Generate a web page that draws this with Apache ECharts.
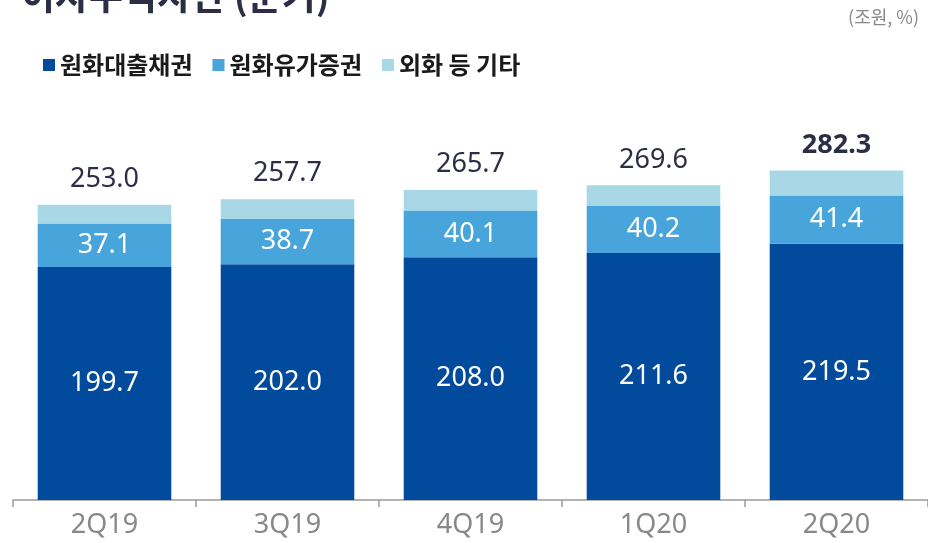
<!DOCTYPE html>
<html>
<head>
<meta charset="utf-8">
<script src="https://cdn.jsdelivr.net/npm/echarts@6/dist/echarts.min.js"></script>
<style>
  html, body { margin: 0; padding: 0; background: #fff; }
  #chart { width: 928px; height: 543px; }
</style>
</head>
<body>
<div id="chart"></div>
<script>
// 분기
const quarters = ['2Q19', '3Q19', '4Q19', '1Q20', '2Q20']
// 원화대출채권
const krwLoans = [199.7, 202.0, 208.0, 211.6, 219.5]
// 원화유가증권
const krwSecurities = [37.1, 38.7, 40.1, 40.2, 41.4]
// 외화 등 기타
const fxOther = [16.2, 17.0, 17.6, 17.8, 21.4]
// 합계 (막대 위 라벨)
const totals = [253.0, 257.7, 265.7, 269.6, 282.3]

const numFont = '"Noto Sans", "Noto Sans CJK KR", sans-serif'
const krFont = '"Noto Sans CJK KR", sans-serif'

const option = {
  animation: false,
  title: {
    text: '이자수익자산 (분기)',
    left: 16,
    top: -28,
    textStyle: { fontFamily: krFont, fontSize: 37, fontWeight: 'bold', color: '#2b2e45' }
  },
  graphic: [{
    type: 'text',
    right: 9,
    top: 8,
    style: { text: '(조원, %)', font: '18px "Noto Sans CJK KR", sans-serif', fill: '#8a8a8a' }
  }],
  legend: {
    left: 38,
    top: 48,
    itemWidth: 12,
    itemHeight: 12,
    itemGap: 20,
    icon: 'rect',
    textStyle: { fontFamily: krFont, fontSize: 24, fontWeight: 'bold', color: '#1a1a1a' },
    data: ['원화대출채권', '원화유가증권', '외화 등 기타']
  },
  grid: { left: 13, right: 0, top: 91.5, bottom: 43 },
  xAxis: {
    type: 'category',
    data: quarters,
    axisLine: { lineStyle: { color: '#9a9a9a', width: 1.5 } },
    axisTick: { show: true, length: 7, lineStyle: { color: '#9a9a9a', width: 1.5 } },
    axisLabel: { fontFamily: numFont, fontSize: 27, color: '#888888', margin: 12 }
  },
  yAxis: {
    type: 'value',
    min: 0,
    max: 350,
    show: false,
    splitLine: { show: false }
  },
  series: [
    {
      name: '원화대출채권',
      type: 'bar',
      stack: 'total',
      barCategoryGap: '27%',
      data: krwLoans,
      itemStyle: { color: '#024b9c' },
      label: {
        show: true,
        position: 'inside',
        fontFamily: numFont,
        fontSize: 27,
        color: '#ffffff',
        formatter: p => p.value.toFixed(1)
      }
    },
    {
      name: '원화유가증권',
      type: 'bar',
      stack: 'total',
      data: krwSecurities,
      itemStyle: { color: '#47a5dc' },
      label: {
        show: true,
        position: 'inside',
        fontFamily: numFont,
        fontSize: 27,
        color: '#ffffff',
        formatter: p => p.value.toFixed(1)
      }
    },
    {
      name: '외화 등 기타',
      type: 'bar',
      stack: 'total',
      data: fxOther,
      itemStyle: { color: '#a8d8e6' },
      label: {
        show: true,
        position: 'top',
        distance: 12,
        fontFamily: numFont,
        fontSize: 27,
        color: '#2b2e45',
        formatter: p => p.dataIndex === totals.length - 1
          ? '{b|' + totals[p.dataIndex].toFixed(1) + '}'
          : totals[p.dataIndex].toFixed(1),
        rich: {
          b: { fontFamily: numFont, fontSize: 27, fontWeight: 'bold', color: '#2b2e45' }
        }
      }
    }
  ]
}

const chart = echarts.init(document.getElementById('chart'))
chart.setOption(option)
</script>
</body>
</html>
